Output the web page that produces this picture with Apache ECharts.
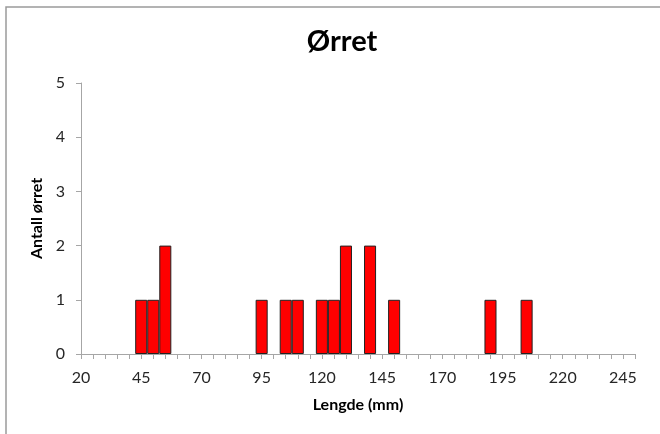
<!DOCTYPE html>
<html>
<head>
<meta charset="utf-8">
<script src="https://cdn.jsdelivr.net/npm/echarts@6/dist/echarts.min.js"></script>
<style>
html,body{margin:0;padding:0;background:#fff;}
#chart{width:660px;height:434px;}
</style>
</head>
<body>
<div id="chart"></div>
<script>
const categories = ['20','25','30','35','40','45','50','55','60','65','70','75','80','85','90','95','100','105','110','115','120','125','130','135','140','145','150','155','160','165','170','175','180','185','190','195','200','205','210','215','220','225','230','235','240','245','250'];
const counts = [0,0,0,0,0,1,1,2,0,0,0,0,0,0,0,1,0,1,1,0,1,1,2,0,2,0,1,0,0,0,0,0,0,0,1,0,0,1,0,0,0,0,0,0,0,0,0];
const yTicks = [0,1,2,3,4,5];

const FONT = 'Lato, "Open Sans", sans-serif';
const chart = echarts.init(document.getElementById('chart'), null, {renderer:'canvas'});
chart.setOption({
  animation:false,
  backgroundColor:'#fff',
  title:{
    text:'Ørret', left:337, top:22, textAlign:'center',
    textStyle:{fontFamily:FONT, fontSize:29, fontWeight:'bold', color:'#000'}
  },
  graphic:[{
    type:'rect', shape:{x:6, y:7, width:700, height:500},
    style:{fill:null, stroke:'#9a9a9a', lineWidth:1.5}, silent:true
  }],
  grid:{left:81, right:25, top:83, bottom:80, containLabel:false},
  xAxis:{
    type:'category', data:categories, boundaryGap:false,
    name:'Lengde (mm)', nameLocation:'middle', nameGap:43,
    nameTextStyle:{fontFamily:FONT, fontSize:16, fontWeight:'bold', color:'#000'},
    axisLine:{show:true, lineStyle:{color:'#a6a6a6', width:1}},
    axisTick:{show:true, interval:0, length:5, inside:false, lineStyle:{color:'#a6a6a6'}},
    axisLabel:{interval:4, margin:16, fontFamily:FONT, fontSize:16, color:'#262626'},
    splitLine:{show:false}
  },
  yAxis:{
    type:'value', min:yTicks[0], max:yTicks[yTicks.length-1], interval:1,
    name:'Antall ørret', nameLocation:'middle', nameGap:29, nameRotate:90,
    nameTextStyle:{fontFamily:FONT, fontSize:16, fontWeight:'bold', color:'#000'},
    axisLine:{show:true, lineStyle:{color:'#a6a6a6', width:1}},
    axisTick:{show:true, length:5, inside:false, lineStyle:{color:'#a6a6a6'}},
    axisLabel:{margin:16, fontFamily:FONT, fontSize:16, color:'#262626'},
    splitLine:{show:false}
  },
  series:[{
    type:'bar',
    data:counts.map(v => v === 0 ? null : v),
    barCategoryGap:'0%',
    itemStyle:{color:'#ff0000', borderColor:'#222', borderWidth:1}
  }]
});
</script>
</body>
</html>
